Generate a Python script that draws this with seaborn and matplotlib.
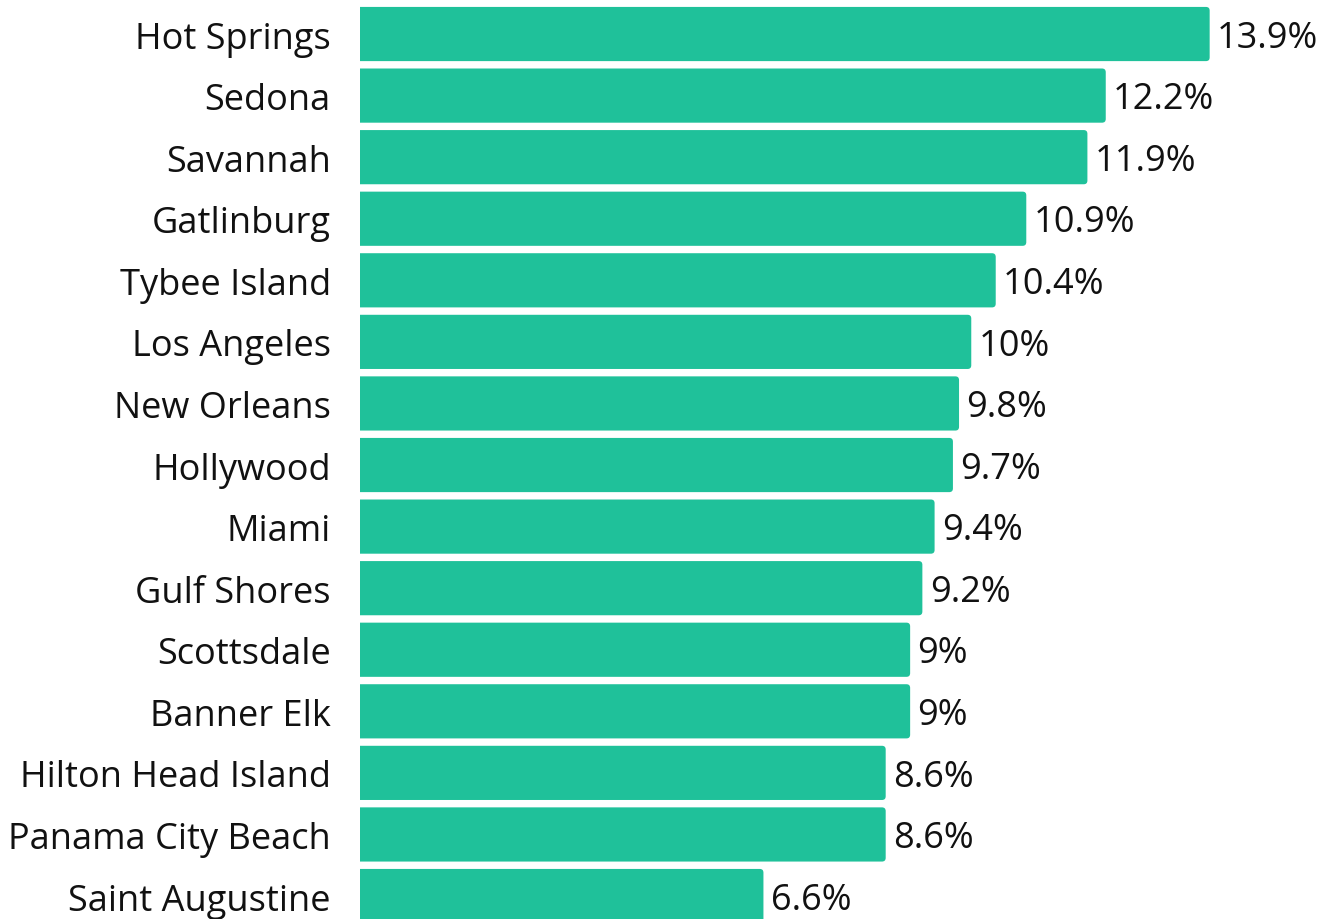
import matplotlib
matplotlib.use("Agg")
import matplotlib.pyplot as plt
from matplotlib.patches import FancyBboxPatch
import pandas as pd
import seaborn as sns

cities = [
    "Hot Springs", "Sedona", "Savannah", "Gatlinburg", "Tybee Island",
    "Los Angeles", "New Orleans", "Hollywood", "Miami", "Gulf Shores",
    "Scottsdale", "Banner Elk", "Hilton Head Island", "Panama City Beach",
    "Saint Augustine",
]
shares = [13.9, 12.2, 11.9, 10.9, 10.4, 10.0, 9.8, 9.7, 9.4, 9.2, 9.0, 9.0, 8.6, 8.6, 6.6]

BAR_COLOR = "#1fc19a"


def main():
    sns.set_theme(style="white")
    plt.rcParams["font.family"] = ["Open Sans", "DejaVu Sans"]
    df = pd.DataFrame({"city": cities, "share": shares})

    fig = plt.figure(figsize=(13.25, 9.2), dpi=100)
    ax = fig.add_axes([360 / 1325, -0.0085, 0.692, 1.0039])
    sns.barplot(data=df, x="share", y="city", color=BAR_COLOR, saturation=1,
                width=0.88, ax=ax)

    # swap the square bars for ones with slightly rounded right corners
    for p in list(ax.patches):
        y, w, h = p.get_y(), p.get_width(), p.get_height()
        p.remove()
        ax.add_patch(FancyBboxPatch(
            (-0.2, y), w + 0.2, h,
            boxstyle="round,pad=0,rounding_size=0.06",
            mutation_aspect=1, fc=BAR_COLOR, ec="none",
        ))

    ax.set_xlim(0, 15)
    ax.set_ylim(14.5, -0.5)
    for y, v in enumerate(shares):
        ax.text(v + 0.12, y + 0.06, f"{v:g}%", va="center", ha="left",
                fontsize=26, color="#111111")

    ax.set(xlabel="", ylabel="")
    ax.set_xticks([])
    ax.tick_params(axis="y", length=0, pad=21, labelsize=26, labelcolor="#111111")
    sns.despine(ax=ax, left=True, bottom=True)

    fig.savefig("out.png", dpi=100)


if __name__ == "__main__":
    main()
